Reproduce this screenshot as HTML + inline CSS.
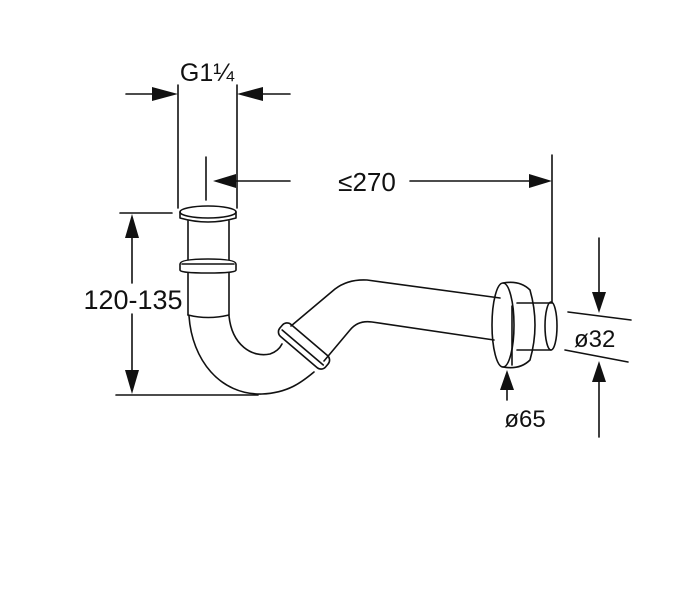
<!DOCTYPE html>
<html><head><meta charset="utf-8"><style>
html,body{margin:0;padding:0;background:#fff;}
svg{display:block;}
text{font-family:"Liberation Sans",sans-serif;fill:#111;}
</style></head><body>
<svg width="700" height="600" viewBox="0 0 700 600" xmlns="http://www.w3.org/2000/svg">
<g stroke="#111" stroke-width="1.6" fill="none" stroke-linecap="round" stroke-linejoin="round">
<line x1="178" y1="85" x2="178" y2="208"/>
<line x1="237" y1="85" x2="237" y2="208"/>
<line x1="126" y1="94" x2="160" y2="94"/>
<line x1="255" y1="94" x2="290" y2="94"/>
<line x1="206" y1="157" x2="206" y2="200"/>
<line x1="232" y1="181" x2="290" y2="181"/>
<line x1="410" y1="181" x2="535" y2="181"/>
<line x1="552" y1="155" x2="552" y2="303"/>
<line x1="120" y1="213" x2="172" y2="213"/>
<line x1="132" y1="230" x2="132" y2="283"/>
<line x1="132" y1="314" x2="132" y2="378"/>
<line x1="116" y1="395" x2="258" y2="395"/>
<ellipse cx="208" cy="212" rx="28" ry="6"/>
<path d="M180 212 L180 218 Q208 226 236 218 L236 212"/>
<line x1="188" y1="221" x2="188" y2="260"/>
<line x1="229" y1="221" x2="229" y2="260"/>
<path d="M180 264 Q180 259 208 259 Q236 259 236 264 L236 270 Q236 273 208 273 Q180 273 180 270 Z"/>
<line x1="182" y1="264" x2="234" y2="264"/>
<line x1="188" y1="273" x2="188" y2="315"/>
<line x1="229" y1="273" x2="229" y2="315"/>
<path d="M188 315 Q208 320 229 315"/>
<path d="M189 316 C192 360 220 395 262 394 C288 393 302 382 314 372"/>
<path d="M229 316 C232 345 252 358 270 354 C276 352 280 348 282 344"/>
<g transform="translate(304,346) rotate(-49.6)">
<rect x="-8" y="-30" width="16" height="60" rx="6"/>
<line x1="-2" y1="-27" x2="-2" y2="27"/>
</g>
<path d="M291 326 L335 289 Q348 279 367 280 L500 298"/>
<path d="M324 361 L350 330 Q358 320 372 322 L494 340"/>
<ellipse cx="503" cy="325" rx="11" ry="42"/>
<path d="M503 283 Q520 280 530 290 Q540 325 530 360 Q520 370 503 367"/>
<line x1="512" y1="306" x2="512" y2="365"/>
<line x1="517" y1="303" x2="551" y2="303"/>
<line x1="517" y1="350" x2="551" y2="350"/>
<ellipse cx="551" cy="326" rx="6" ry="24"/>
<line x1="599" y1="238" x2="599" y2="295"/>
<line x1="599" y1="380" x2="599" y2="437"/>
<line x1="568" y1="312" x2="631" y2="320"/>
<line x1="565" y1="350" x2="628" y2="362"/>
<line x1="507" y1="388" x2="507" y2="400"/>
</g>
<g fill="#111" stroke="none">
<polygon points="178,94 152,87 152,101"/>
<polygon points="237,94 263,87 263,101"/>
<polygon points="213,181 236,174 236,188"/>
<polygon points="552,181 529,174 529,188"/>
<polygon points="132,214 125,238 139,238"/>
<polygon points="132,394 125,370 139,370"/>
<polygon points="599,313 592,292 606,292"/>
<polygon points="599,361 592,382 606,382"/>
<polygon points="507,370 500,390 514,390"/>
</g>
<text x="207" y="81" font-size="25" text-anchor="middle">G1¼</text>
<text x="367" y="191" font-size="26" text-anchor="middle">≤270</text>
<text x="133" y="309" font-size="27" text-anchor="middle">120-135</text>
<text x="574" y="347" font-size="24">ø32</text>
<text x="525" y="427" font-size="24" text-anchor="middle">ø65</text>
</svg>
</body></html>
